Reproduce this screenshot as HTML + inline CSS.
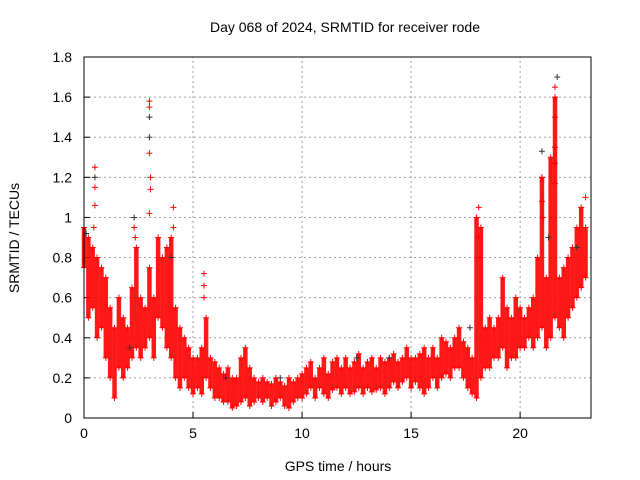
<!DOCTYPE html>
<html><head><meta charset="utf-8"><style>
body{margin:0;background:#fff;}
svg{display:block;font-family:"Liberation Sans",sans-serif;}
</style></head><body>
<svg id="chart" width="640" height="480">
<text x="345" y="32" text-anchor="middle" font-size="14">Day 068 of 2024, SRMTID for receiver rode</text>
<text x="338" y="471" text-anchor="middle" font-size="14">GPS time / hours</text>
<text x="19" y="238" text-anchor="middle" font-size="14" transform="rotate(-90 19 238)">SRMTID / TECUs</text>
<g id="grid"></g><g id="marks"></g>
<rect x="84" y="57" width="507" height="361" fill="none" stroke="#000" stroke-width="1"/>
</svg>
<script>
const xTicks=[0,5,10,15,20];
const yTicks=[0,0.2,0.4,0.6,0.8,1,1.2,1.4,1.6,1.8];
const redTimes=[0,0.2,0.4,0.6,0.8,1.0,1.2,1.4,1.6,1.8,2.0,2.2,2.4,2.6,2.8,3.0,3.2,3.4,3.6,3.8,4.0,4.2,4.4,4.6,4.8,5.0,5.2,5.4,5.6,5.8,6.0,6.2,6.4,6.6,6.8,7.0,7.2,7.4,7.6,7.8,8.0,8.2,8.4,8.6,8.8,9.0,9.2,9.4,9.6,9.8,10.0,10.2,10.4,10.6,10.8,11.0,11.2,11.4,11.6,11.8,12.0,12.2,12.4,12.6,12.8,13.0,13.2,13.4,13.6,13.8,14.0,14.2,14.4,14.6,14.8,15.0,15.2,15.4,15.6,15.8,16.0,16.2,16.4,16.6,16.8,17.0,17.2,17.4,17.6,17.8,18.0,18.2,18.4,18.6,18.8,19.0,19.2,19.4,19.6,19.8,20.0,20.2,20.4,20.6,20.8,21.0,21.2,21.4,21.6,21.8,22.0,22.2,22.4,22.6,22.8,23.0];
const redHi=[.95,.9,.85,.8,.75,.7,.55,.45,.6,.5,.45,.65,.85,.6,.55,.75,.6,.9,.8,.85,.9,.55,.45,.4,.35,.3,.3,.35,.5,.3,.28,.25,.22,.25,.2,.2,.3,.35,.25,.2,.18,.2,.18,.17,.2,.18,.16,.2,.18,.2,.22,.25,.28,.2,.25,.3,.22,.28,.3,.25,.3,.25,.28,.32,.25,.28,.3,.25,.3,.28,.3,.32,.28,.3,.35,.3,.3,.32,.35,.3,.35,.3,.4,.38,.35,.4,.45,.38,.35,.3,1.0,.95,.45,.5,.45,.5,.7,.55,.5,.6,.55,.5,.55,.6,.8,1.2,.7,1.3,1.6,.7,.75,.8,.85,.95,1.05,.95];
const redLo=[.75,.5,.55,.4,.45,.3,.2,.1,.25,.2,.25,.3,.35,.3,.35,.4,.3,.5,.45,.35,.3,.2,.15,.2,.15,.12,.15,.12,.2,.15,.1,.1,.08,.08,.05,.06,.08,.1,.06,.08,.1,.08,.1,.06,.08,.1,.06,.05,.08,.1,.1,.12,.15,.1,.15,.12,.1,.14,.15,.12,.15,.12,.13,.15,.12,.15,.13,.14,.15,.12,.15,.18,.15,.18,.2,.15,.18,.15,.12,.15,.2,.15,.2,.22,.2,.25,.25,.2,.15,.12,.1,.2,.25,.25,.3,.3,.35,.25,.3,.3,.35,.35,.4,.35,.4,.45,.35,.4,.5,.45,.4,.5,.55,.6,.65,.7];
const redSpikeT=[3.0,3.0,0.5,21.6,21.6,3.05,21.0,4.1,23.0,5.5,0.5,3.0,18.1,0.5,0.45,3.05,3.0,21.6,21.6,21.6,21.0,21.05,18.1,18.15,4.1,5.5,5.5,2.3,2.35];
const redSpikeV=[1.58,1.55,1.25,1.65,1.5,1.2,1.2,1.05,1.1,0.72,1.15,1.32,1.05,1.06,0.95,1.14,1.02,1.35,1.27,1.17,1.08,1.0,0.9,0.8,0.95,0.66,0.6,0.95,0.9];
const blackT=[0.5,2.3,3.0,3.0,21.7,21.0,22.6,17.7,9.0,14.0,21.3,2.1,4.0,0.1,12.5,6.5];
const blackV=[1.2,1.0,1.5,1.4,1.7,1.33,0.85,0.45,0.2,0.3,0.9,0.35,0.8,0.92,0.3,0.2];
const X0=84,X1=591,Y0=418,Y1=57,XMAX=23.25,YMAX=1.8;
const xs=t=>X0+t/XMAX*(X1-X0);
const ys=v=>Y0-v/YMAX*(Y0-Y1);
const NS='http://www.w3.org/2000/svg';
const grid=document.getElementById('grid'),marks=document.getElementById('marks');
function mk(tag,attrs,parent){const e=document.createElementNS(NS,tag);for(const k in attrs)e.setAttribute(k,attrs[k]);parent.appendChild(e);return e;}
xTicks.forEach(t=>{const x=xs(t);
 if(t>0){const g=mk('line',{x1:x,x2:x,y1:Y0,y2:Y1,stroke:'#a0a0a0','stroke-dasharray':'2,3'},grid);
 
 }
 const tk=mk('line',{x1:x,x2:x,y1:Y0,y2:Y0-6,stroke:'#000'},grid);
 
 
 const l=mk('text',{x:x,y:Y0+20,'text-anchor':'middle','font-size':14},grid);l.textContent=t;
 
 });
yTicks.forEach(v=>{const y=ys(v);
 if(v>0&&v<1.8){const g=mk('line',{x1:X0,x2:X1,y1:y,y2:y,stroke:'#a0a0a0','stroke-dasharray':'2,3'},grid);
 
 }
 const tk=mk('line',{x1:X0,x2:X0+6,y1:y,y2:y,stroke:'#000'},grid);
 
 
 const l=mk('text',{x:X0-12,y:y+5,'text-anchor':'end','font-size':14},grid);l.textContent=String(v);
 
 });
function plus(t,v,c){const x=xs(t),y=ys(v);
 const p=mk('path',{d:`M${x-3},${y}H${x+3}M${x},${y-3}V${y+3}`,stroke:c,'stroke-width':1},marks);
 
 }
redTimes.forEach((t,i)=>{
 const b=mk('line',{x1:xs(t),x2:xs(t),y1:ys(redHi[i]),y2:ys(redLo[i]),stroke:'#f00','stroke-width':4.5,opacity:0.9},marks);
 
 
 plus(t,redHi[i],'#f00');plus(t,redLo[i],'#f00');});
blackT.forEach((t,i)=>plus(t,blackV[i],'#333'));
redSpikeT.forEach((t,i)=>plus(t,redSpikeV[i],'#f00'));
</script>
</body></html>
